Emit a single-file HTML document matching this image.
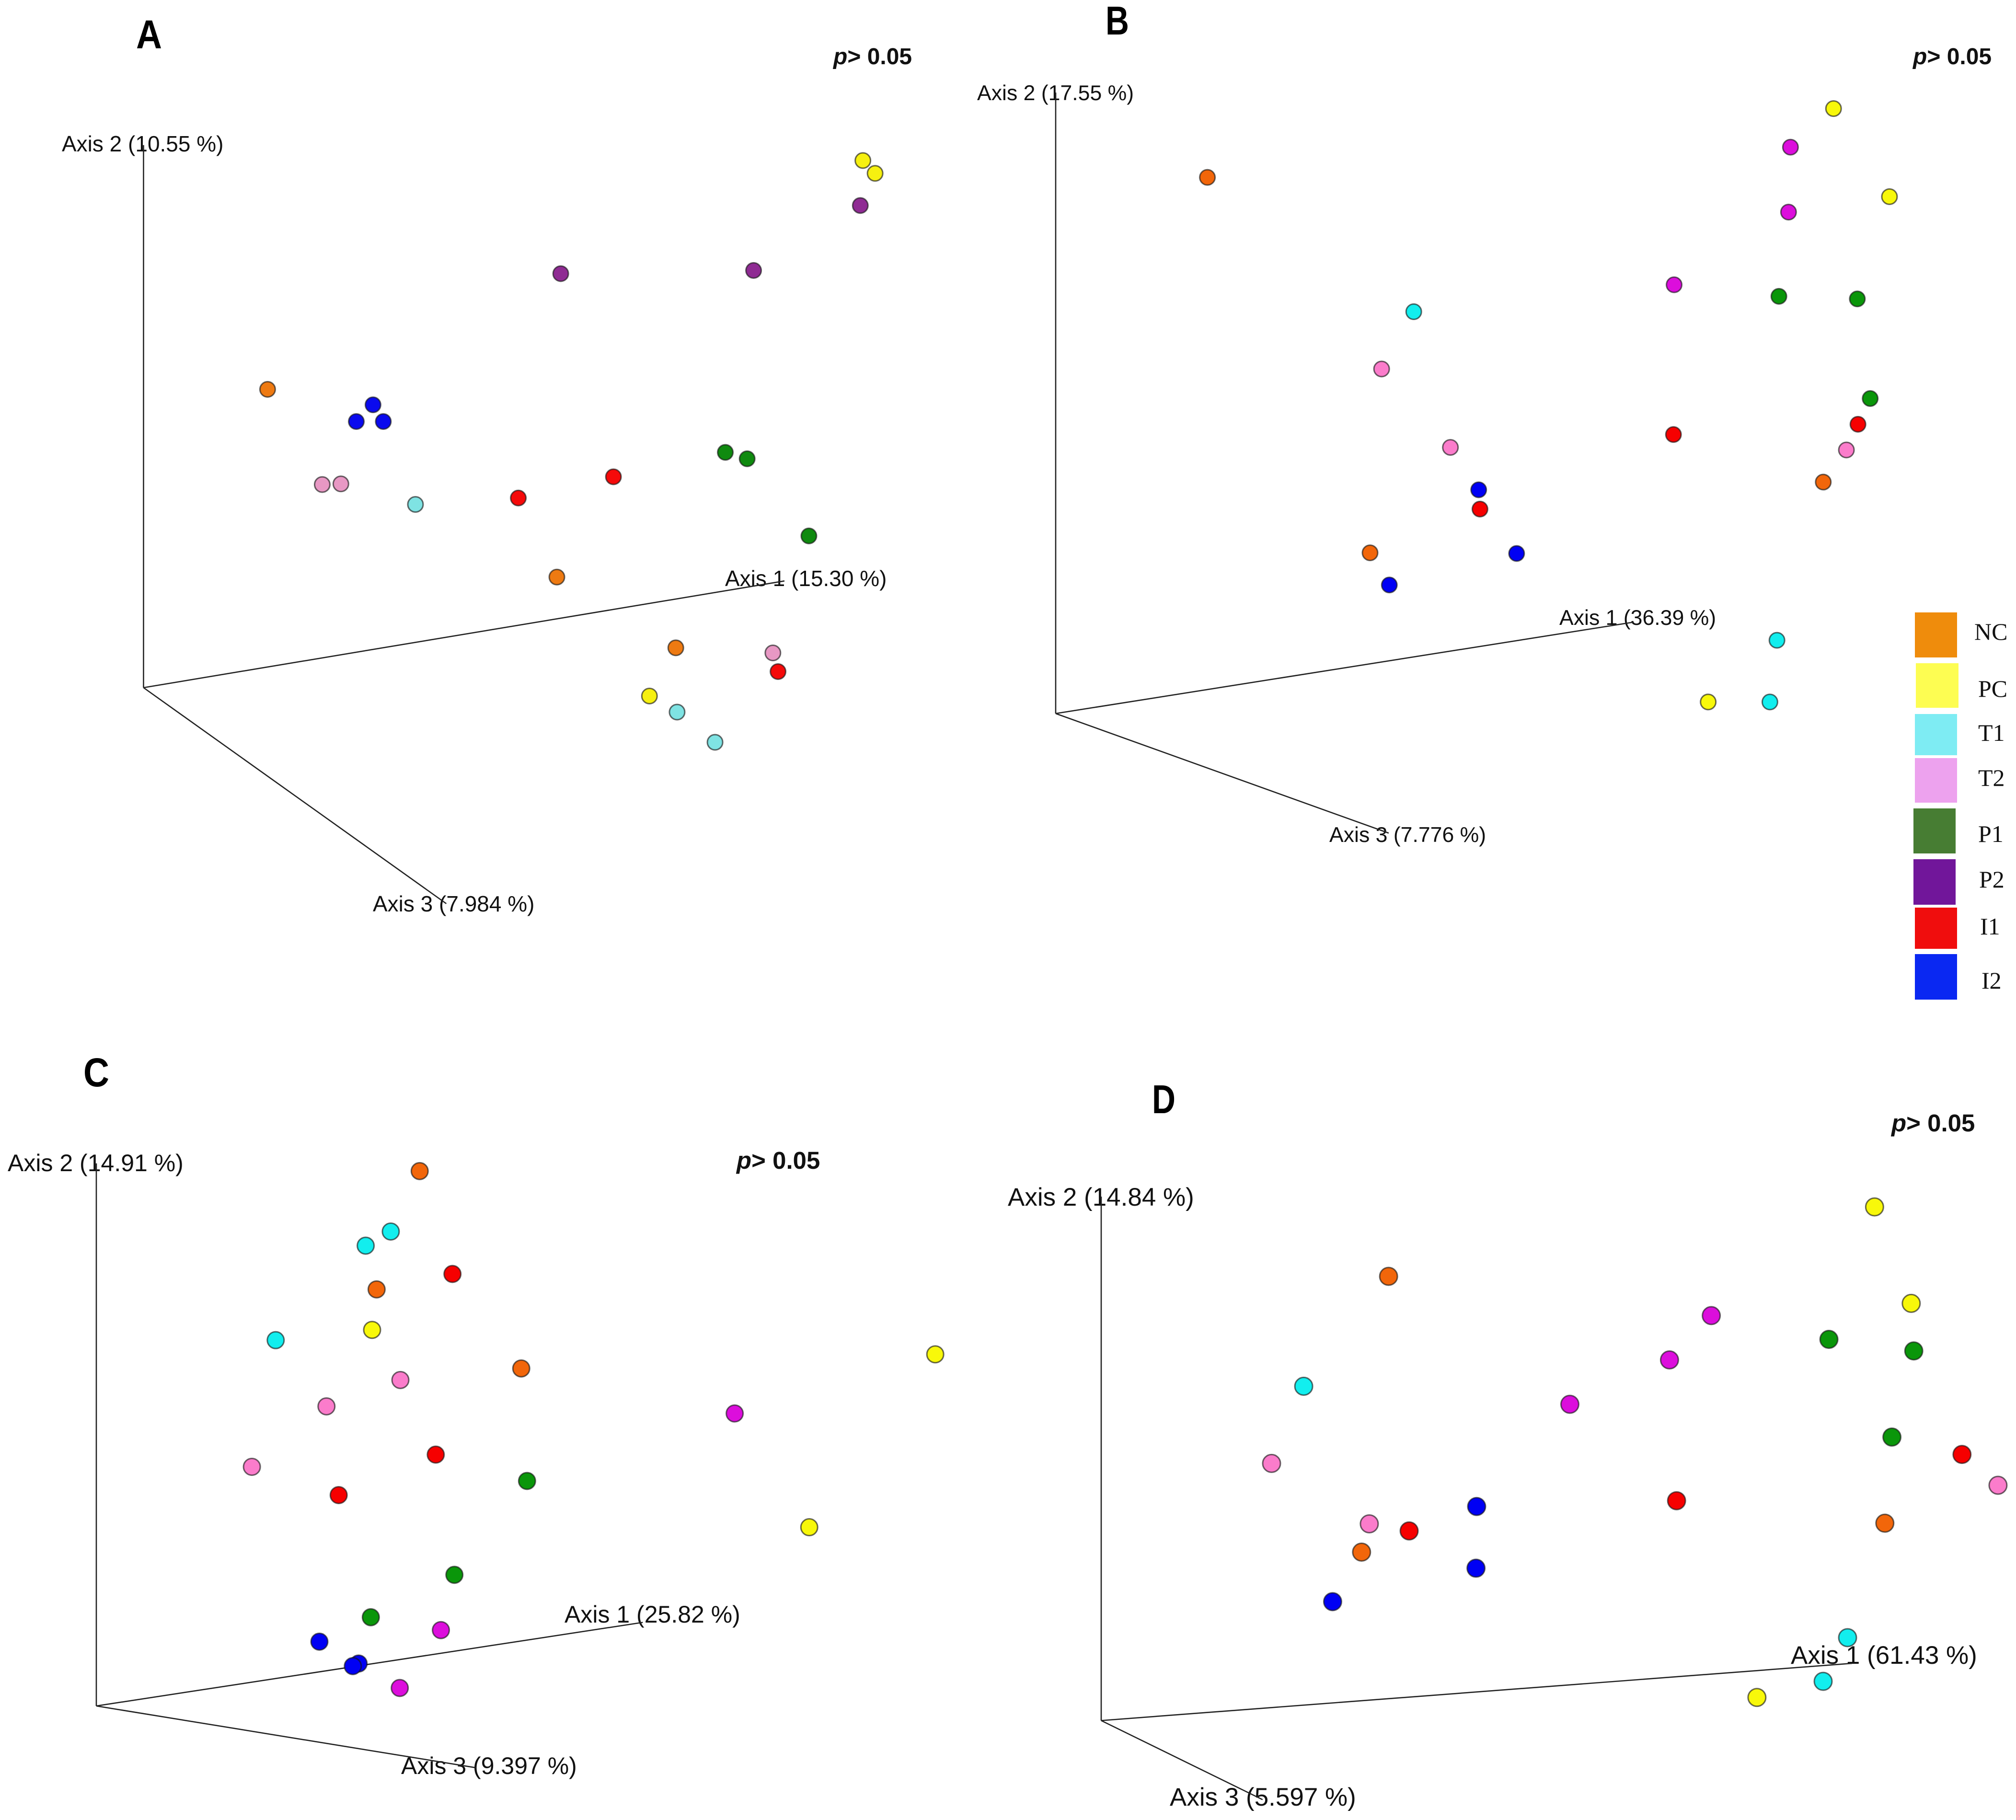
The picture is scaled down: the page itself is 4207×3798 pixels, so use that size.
<!DOCTYPE html>
<html lang="en">
<head>
<meta charset="utf-8">
<title>PCoA plots A-D</title>
<style>
html,body{margin:0;padding:0;background:#fff;}
svg{display:block;}
.ax{font-family:"Liberation Sans",sans-serif;fill:#111;}
.letter{font-family:"Liberation Sans",sans-serif;font-weight:700;font-size:84px;fill:#000;}
.pv{font-family:"Liberation Sans",sans-serif;font-weight:700;fill:#111;}
.pv tspan.i{font-style:italic;}
.lg{font-family:"Liberation Serif",serif;font-size:50px;fill:#111;}
</style>
</head>
<body>
<svg id="figure" xmlns="http://www.w3.org/2000/svg" width="4207" height="3798" viewBox="0 0 4207 3798">
  <rect x="0" y="0" width="4207" height="3798" fill="#fff"/>

  <g id="panel-a">
    <text class="letter" x="284" y="101" textLength="54" lengthAdjust="spacingAndGlyphs">A</text>
    <text class="pv" x="1739" y="134" font-size="48"><tspan class="i">p</tspan>&gt; 0.05</text>
    <text class="ax" x="129" y="316" font-size="46">Axis 2 (10.55 %)</text>
    <text class="ax" x="1513" y="1223" font-size="46">Axis 1 (15.30 %)</text>
    <text class="ax" x="778" y="1902" font-size="46">Axis 3 (7.984 %)</text>
  </g>
  <g id="panel-b">
    <text class="letter" x="2307" y="72" textLength="49" lengthAdjust="spacingAndGlyphs">B</text>
    <text class="pv" x="3992" y="134" font-size="48"><tspan class="i">p</tspan>&gt; 0.05</text>
    <text class="ax" x="2039" y="209" font-size="44.6">Axis 2 (17.55 %)</text>
    <text class="ax" x="3254" y="1304" font-size="44.6">Axis 1 (36.39 %)</text>
    <text class="ax" x="2774" y="1757" font-size="44.6">Axis 3 (7.776 %)</text>
  </g>
  <g id="panel-c">
    <text class="letter" x="174" y="2267" textLength="54" lengthAdjust="spacingAndGlyphs">C</text>
    <text class="pv" x="1537" y="2439" font-size="51"><tspan class="i">p</tspan>&gt; 0.05</text>
    <text class="ax" x="16" y="2444" font-size="50">Axis 2 (14.91 %)</text>
    <text class="ax" x="1178" y="3386" font-size="50">Axis 1 (25.82 %)</text>
    <text class="ax" x="837" y="3702" font-size="50">Axis 3 (9.397 %)</text>
  </g>
  <g id="panel-d">
    <text class="letter" x="2404" y="2323" textLength="49" lengthAdjust="spacingAndGlyphs">D</text>
    <text class="pv" x="3947" y="2361" font-size="51"><tspan class="i">p</tspan>&gt; 0.05</text>
    <text class="ax" x="2103" y="2516" font-size="53">Axis 2 (14.84 %)</text>
    <text class="ax" x="3737" y="3472" font-size="53">Axis 1 (61.43 %)</text>
    <text class="ax" x="2441" y="3768" font-size="53">Axis 3 (5.597 %)</text>
  </g>

  <g id="legend">
    <g><rect x="3996" y="1278" width="88" height="94" fill="#ef8c0c"/><text class="lg" x="4120" y="1335">NC</text></g>
    <g><rect x="3998" y="1384" width="89" height="93" fill="#fdfd52"/><text class="lg" x="4128" y="1454">PC</text></g>
    <g><rect x="3996" y="1490" width="88" height="86" fill="#7eecf3"/><text class="lg" x="4128" y="1546">T1</text></g>
    <g><rect x="3996" y="1582" width="88" height="93" fill="#eda2ee"/><text class="lg" x="4128" y="1640">T2</text></g>
    <g><rect x="3993" y="1687" width="88" height="94" fill="#477d33"/><text class="lg" x="4128" y="1757">P1</text></g>
    <g><rect x="3993" y="1793" width="88" height="95" fill="#71169a"/><text class="lg" x="4130" y="1852">P2</text></g>
    <g><rect x="3996" y="1894" width="88" height="86" fill="#f00d0d"/><text class="lg" x="4132" y="1950">I1</text></g>
    <g><rect x="3996" y="1991" width="88" height="95" fill="#0a28f2"/><text class="lg" x="4135" y="2063">I2</text></g>
  </g>
</svg>

<script>
// Groups: every panel lists 3 samples per group, in this order.
const groupNames = ['NC', 'PC', 'T1', 'T2', 'P1', 'P2', 'I1', 'I2'];
const samplesPerGroup = 3;

// Projected sample scores (horizontal, vertical).
const panelA_h = [96.5,321.5,414, 559.5,569,393.5, 211.5,415,444.5, 139,153.5,489.5, 452.5,469.5,517.5, 557.5,324.5,474.5, 291.5,365.5,493.5, 178.5,165.5,186.5];
const panelA_v = [232,86,31, 410,400,-6.5, 142.5,-19,-42.5, 158,158.5,27, 183,178,118, 375,322,324.5, 147.5,164,12.5, 220,207,207];

const panelB_h = [118,244.5,597, 605,648.5,507.5, 278.5,561,555.5, 253.5,307,615, 562.5,623.5,633.5, 571.5,570,481, 480.5,624,330, 329,358.5,259.5];
const panelB_v = [417,125,180, 470.5,402,9, 312.5,57,9, 268,207,205, 324.5,322.5,245, 440.5,390,333.5, 217,225,159, 174,124.5,100];

const panelC_h = [251.5,218,330.5, 214.5,652.5,554.5, 229,209.5,139.5, 236.5,179,121, 335,278.5,213.5, 496.5,268,236, 277,264,188.5, 173.5,204,199.5];
const panelC_v = [416,324,262.5, 292.5,273.5,139, 369,358,284.5, 253.5,233,186, 175,102,69, 227.5,59,14, 336,195.5,164, 50,33,31];

const panelD_h = [223.5,609.5,202.5, 601.5,630,510, 157.5,580.5,561.5, 132.5,697.5,208.5, 566,632,615, 474.5,442,364.5, 669.5,447.5,239.5, 292,291.5,180];
const panelD_v = [345.5,153.5,131, 399.5,324.5,18, 260,64.5,30.5, 200,183,153, 296.5,287.5,220.5, 315,280.5,246, 207,171,147.5, 166.5,118.5,92.5];

// Axis extents in the same projected units (horizontal, vertical).
const panelA_axis1 = [498.5, 83];
const panelA_axis2 = [0, 422];
const panelA_axis3 = [235.5, -168];

const panelB_axis1 = [449, 71];
const panelB_axis2 = [0, 483];
const panelB_axis3 = [259, -93];

const panelC_axis1 = [425, 65];
const panelC_axis2 = [0, 422];
const panelC_axis3 = [295, -48];

const panelD_axis1 = [584, 44.5];
const panelD_axis2 = [0, 407.5];
const panelD_axis3 = [125.5, -61.5];

const UNIT = 4207 / 1568;
const SVG_NS = 'http://www.w3.org/2000/svg';

const paletteMuted = {NC:'#ee7a12', PC:'#f6f010', T1:'#7fe3e3', T2:'#e898c4', P1:'#0f8a0f', P2:'#8f2b93', I1:'#f50a0a', I2:'#0a0aee'};
const paletteBright = {NC:'#f2660a', PC:'#f8f80a', T1:'#12eeee', T2:'#fb7ccb', P1:'#0a960a', P2:'#dc0edc', I1:'#f60000', I2:'#0000f4'};

function xScale(originX, h) { return originX + h * UNIT; }
function yScale(originY, v) { return originY - v * UNIT; }

function drawAxis(layer, panel, axisName, end) {
  const line = document.createElementNS(SVG_NS, 'line');
  
  
  line.setAttribute('x1', xScale(panel.ox, 0));
  line.setAttribute('y1', yScale(panel.oy, 0));
  line.setAttribute('x2', xScale(panel.ox, end[0]));
  line.setAttribute('y2', yScale(panel.oy, end[1]));
  line.setAttribute('stroke', '#222');
  line.setAttribute('stroke-width', '2.6');
  layer.appendChild(line);
}

function drawPoints(layer, panel) {
  panel.h.forEach(function (h, i) {
    const group = groupNames[Math.floor(i / samplesPerGroup)];
    const dot = document.createElementNS(SVG_NS, 'circle');
    
    
    dot.setAttribute('cx', xScale(panel.ox, h));
    dot.setAttribute('cy', yScale(panel.oy, panel.v[i]));
    dot.setAttribute('r', panel.r);
    dot.setAttribute('fill', panel.colors[group]);
    dot.setAttribute('stroke', 'rgba(20,20,20,0.62)');
    dot.setAttribute('stroke-width', '3');
    layer.appendChild(dot);
  });
}

const panels = [
  {name:'panel-a', ox:299.5, oy:1435,  r:16,   colors:paletteMuted,  h:panelA_h, v:panelA_v, a1:panelA_axis1, a2:panelA_axis2, a3:panelA_axis3},
  {name:'panel-b', ox:2203,  oy:1489,  r:16,   colors:paletteBright, h:panelB_h, v:panelB_v, a1:panelB_axis1, a2:panelB_axis2, a3:panelB_axis3},
  {name:'panel-c', ox:201,   oy:3560,  r:17.5, colors:paletteBright, h:panelC_h, v:panelC_v, a1:panelC_axis1, a2:panelC_axis2, a3:panelC_axis3},
  {name:'panel-d', ox:2298,  oy:3590.5,r:18.5, colors:paletteBright, h:panelD_h, v:panelD_v, a1:panelD_axis1, a2:panelD_axis2, a3:panelD_axis3}
];

panels.forEach(function (panel) {
  const layer = document.getElementById(panel.name);
  drawAxis(layer, panel, 'axis-1', panel.a1);
  drawAxis(layer, panel, 'axis-2', panel.a2);
  drawAxis(layer, panel, 'axis-3', panel.a3);
  drawPoints(layer, panel);
});
</script>
</body>
</html>
